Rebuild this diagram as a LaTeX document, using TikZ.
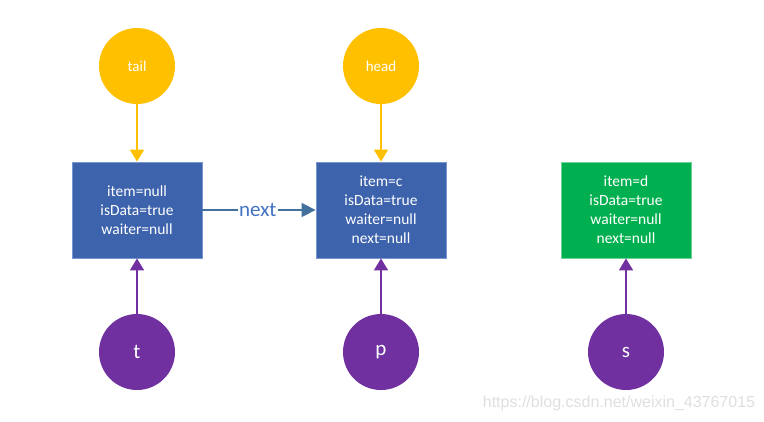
\documentclass[tikz,border=0pt]{standalone}
\usepackage{fontspec}
\setmainfont{Carlito}
\newfontfamily\wmfont{Liberation Sans}
\usetikzlibrary{arrows.meta}
\definecolor{ptrYellow}{RGB}{255,192,0}
\definecolor{ptrPurple}{RGB}{112,48,160}
\definecolor{boxBlue}{RGB}{61,99,173}
\definecolor{boxBlueEdge}{RGB}{120,150,210}
\definecolor{boxGreen}{RGB}{0,176,80}
\definecolor{boxGreenEdge}{RGB}{110,210,150}
\definecolor{linkBlue}{RGB}{65,113,156}
\definecolor{labelBlue}{RGB}{68,114,196}
\begin{document}
\begin{tikzpicture}[x=1pt, y=-1pt,
        ptr/.style={circle, minimum size=76pt, inner sep=0pt, text=white},
        tailhead/.style={ptr, fill=ptrYellow, font=\fontsize{15}{17}\selectfont},
        local/.style={ptr, fill=ptrPurple, font=\fontsize{21}{23}\selectfont},
        qnode/.style={rectangle, draw=boxBlueEdge, fill=boxBlue, text=white, line width=0.8pt,
            minimum width=130pt, minimum height=96pt, align=center, font=\fontsize{15.5}{19}\selectfont},
        newnode/.style={qnode, draw=boxGreenEdge, fill=boxGreen},
        yarrow/.style={-{Triangle[width=14pt,length=12pt]}, ptrYellow, line width=1.5pt},
        parrow/.style={-{Triangle[width=14pt,length=12pt]}, ptrPurple, line width=1.5pt},
        narrow/.style={-{Triangle[width=14pt,length=14pt]}, linkBlue, line width=1.5pt}
    ]
        \useasboundingbox (0,0) rectangle (764,421);

        % Queue nodes
        \node[qnode] (n1) at (137, 210) {item=null\\isData=true\\waiter=null};
        \node[qnode] (n2) at (381, 210) {item=c\\isData=true\\waiter=null\\next=null};
        \node[newnode] (n3) at (626, 210) {item=d\\isData=true\\waiter=null\\next=null};

        % Tail and head
        \node[tailhead] (tail) at (137, 66) {tail};
        \node[tailhead] (head) at (381, 66) {head};
        \draw[yarrow] (tail) -- (n1);
        \draw[yarrow] (head) -- (n2);

        % Link
        \draw[narrow] (n1) -- (n2)
            node[pos=0.49, fill=white, inner sep=1pt, text=labelBlue,
                 font=\fontsize{21}{23}\selectfont] {next};

        % Local variables
        \node[local] (t) at (137, 352) {t};
        \node[local] (p) at (381, 352) {p};
        \node[local] (s) at (626, 352) {s};
        \draw[parrow] (t) -- (n1);
        \draw[parrow] (p) -- (n2);
        \draw[parrow] (s) -- (n3);

        % Watermark
        \node[text=gray!25, font=\wmfont\fontsize{16}{18}\selectfont] (wm) at (619, 403)
            {https://blog.csdn.net/weixin\_43767015};
    \end{tikzpicture}
\end{document}
